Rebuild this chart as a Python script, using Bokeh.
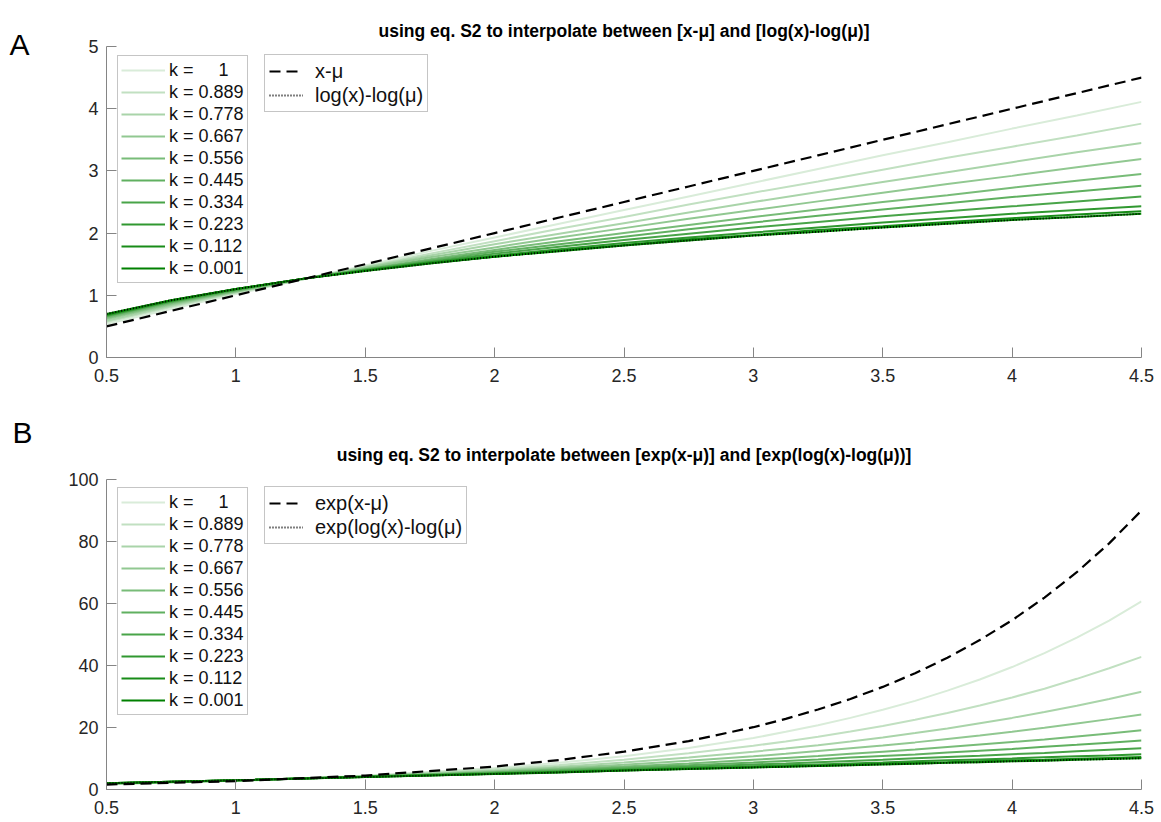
from bokeh.plotting import figure
from bokeh.models import (Range1d, FixedTicker, NumeralTickFormatter, Legend,
                          LegendItem, Label)
from bokeh.layouts import column
from bokeh.embed import file_html
from bokeh.resources import INLINE

FONT = "Liberation Sans"

k_labels = ["k =\u00a0\u00a0\u00a0\u00a0\u00a01", "k = 0.889", "k = 0.778",
            "k = 0.667", "k = 0.556", "k = 0.445", "k = 0.334", "k = 0.223",
            "k = 0.112", "k = 0.001"]
k_colors = ["#d9ecd9", "#c1e0c1", "#a9d4a9", "#91c891", "#78bc78",
            "#60b060", "#48a448", "#309830", "#188c18", "#008000"]

# ---- panel A values ----
a_x = [0.5, 0.75, 1.0, 1.25, 1.5, 1.75, 2.0, 2.25, 2.5, 2.75, 3.0,
       3.25, 3.5, 3.75, 4.0, 4.25, 4.5]
a_k1000 = [0.54, 0.78, 1.02, 1.25, 1.48, 1.71, 1.93, 2.15, 2.37, 2.59, 2.81, 3.03, 3.25, 3.46, 3.68, 3.89, 4.11]
a_k0889 = [0.57, 0.81, 1.04, 1.25, 1.46, 1.67, 1.87, 2.07, 2.26, 2.46, 2.65, 2.83, 3.02, 3.21, 3.39, 3.57, 3.76]
a_k0778 = [0.59, 0.83, 1.05, 1.25, 1.45, 1.64, 1.82, 1.99, 2.16, 2.33, 2.50, 2.66, 2.82, 2.98, 3.14, 3.30, 3.45]
a_k0667 = [0.62, 0.85, 1.06, 1.26, 1.44, 1.61, 1.77, 1.93, 2.08, 2.23, 2.37, 2.51, 2.65, 2.79, 2.92, 3.06, 3.19]
a_k0556 = [0.64, 0.87, 1.07, 1.26, 1.42, 1.58, 1.73, 1.87, 2.00, 2.13, 2.26, 2.38, 2.50, 2.61, 2.73, 2.84, 2.95]
a_k0445 = [0.66, 0.89, 1.08, 1.26, 1.42, 1.56, 1.70, 1.82, 1.94, 2.06, 2.17, 2.28, 2.38, 2.48, 2.58, 2.67, 2.76]
a_k0334 = [0.67, 0.90, 1.09, 1.26, 1.41, 1.54, 1.67, 1.78, 1.89, 1.99, 2.09, 2.18, 2.27, 2.35, 2.43, 2.51, 2.59]
a_k0223 = [0.68, 0.91, 1.10, 1.26, 1.40, 1.53, 1.64, 1.74, 1.84, 1.93, 2.01, 2.09, 2.17, 2.24, 2.31, 2.37, 2.43]
a_k0112 = [0.69, 0.92, 1.10, 1.26, 1.40, 1.52, 1.62, 1.72, 1.81, 1.90, 1.97, 2.05, 2.11, 2.18, 2.24, 2.30, 2.35]
a_k0001 = [0.70, 0.92, 1.10, 1.26, 1.39, 1.51, 1.62, 1.71, 1.80, 1.88, 1.96, 2.02, 2.09, 2.15, 2.21, 2.26, 2.31]
a_dashed = [0.5, 0.75, 1.0, 1.25, 1.5, 1.75, 2.0, 2.25, 2.5, 2.75, 3.0, 3.25, 3.5, 3.75, 4.0, 4.25, 4.5]
a_dotted = [0.70, 0.92, 1.10, 1.26, 1.39, 1.51, 1.62, 1.71, 1.80, 1.88, 1.96, 2.02, 2.09, 2.15, 2.21, 2.26, 2.31]

# ---- panel B values ----
b_x = [0.5, 1.0, 1.5, 2.0, 2.25, 2.5, 2.75, 3.0, 3.125, 3.25, 3.375, 3.5,
       3.625, 3.75, 3.875, 4.0, 4.125, 4.25, 4.375, 4.5]
b_k1000 = [1.7, 2.8, 4.4, 6.9, 8.6, 10.7, 13.4, 16.6, 18.6, 20.7, 23.1, 25.7, 28.6, 31.9, 35.5, 39.5, 44.0, 49.0, 54.5, 60.7]
b_k0889 = [1.8, 2.8, 4.3, 6.5, 7.9, 9.6, 11.7, 14.1, 15.5, 17.0, 18.7, 20.5, 22.5, 24.7, 27.1, 29.7, 32.5, 35.7, 39.1, 42.8]
b_k0778 = [1.8, 2.9, 4.3, 6.1, 7.3, 8.7, 10.3, 12.2, 13.2, 14.3, 15.5, 16.8, 18.2, 19.7, 21.4, 23.1, 25.0, 27.0, 29.2, 31.5]
b_k0667 = [1.9, 2.9, 4.2, 5.9, 6.9, 8.0, 9.3, 10.7, 11.5, 12.4, 13.3, 14.2, 15.2, 16.3, 17.4, 18.6, 19.9, 21.3, 22.7, 24.2]
b_k0556 = [1.9, 2.9, 4.2, 5.6, 6.5, 7.4, 8.4, 9.6, 10.2, 10.8, 11.5, 12.2, 12.9, 13.7, 14.5, 15.3, 16.1, 17.1, 18.1, 19.1]
b_k0445 = [1.9, 3.0, 4.1, 5.5, 6.2, 7.0, 7.8, 8.7, 9.2, 9.7, 10.3, 10.8, 11.3, 11.9, 12.5, 13.1, 13.8, 14.4, 15.1, 15.8]
b_k0334 = [2.0, 3.0, 4.1, 5.3, 5.9, 6.6, 7.3, 8.1, 8.4, 8.8, 9.2, 9.6, 10.1, 10.5, 10.9, 11.4, 11.8, 12.3, 12.8, 13.3]
b_k0223 = [2.0, 3.0, 4.1, 5.1, 5.7, 6.3, 6.9, 7.5, 7.8, 8.1, 8.4, 8.7, 9.1, 9.4, 9.7, 10.0, 10.4, 10.7, 11.0, 11.4]
b_k0112 = [2.0, 3.0, 4.0, 5.1, 5.6, 6.1, 6.7, 7.2, 7.5, 7.7, 8.0, 8.3, 8.6, 8.8, 9.1, 9.4, 9.6, 9.9, 10.2, 10.5]
b_k0001 = [2.0, 3.0, 4.0, 5.0, 5.5, 6.1, 6.6, 7.1, 7.3, 7.6, 7.8, 8.1, 8.3, 8.6, 8.8, 9.1, 9.3, 9.6, 9.8, 10.1]
b_dashed = [1.6, 2.7, 4.5, 7.4, 9.5, 12.2, 15.6, 20.1, 22.8, 25.8, 29.2, 33.1, 37.5, 42.5, 48.2, 54.6, 61.9, 70.1, 79.4, 90.0]
b_dotted = [2.0, 3.0, 4.0, 5.0, 5.5, 6.1, 6.6, 7.1, 7.3, 7.6, 7.8, 8.1, 8.3, 8.6, 8.8, 9.1, 9.3, 9.6, 9.8, 10.1]

x_ticks = [0.5, 1, 1.5, 2, 2.5, 3, 3.5, 4, 4.5]
a_yticks = [0, 1, 2, 3, 4, 5]
b_yticks = [0, 20, 40, 60, 80, 100]


def make_panel(height, top, bottom, ymax, yticks, xs, greens, dashed, dotted,
               dash_label, dot_label, title, letter, letter_x, letter_y,
               title_y):
    p = figure(width=1161, height=height, output_backend="svg", title=None,
               toolbar_location=None, x_range=Range1d(0.5, 4.5),
               y_range=Range1d(0, ymax), min_border_left=106,
               min_border_right=20, min_border_top=top,
               min_border_bottom=bottom)
    p.outline_line_color = None
    p.grid.visible = False
    p.background_fill_color = "white"
    p.border_fill_color = "white"

    for ax in (p.xaxis[0], p.yaxis[0]):
        ax.axis_line_color = "#858585"
        ax.major_tick_line_color = "#858585"
        ax.minor_tick_line_color = None
        ax.major_tick_in = 10
        ax.major_tick_out = 0
        ax.major_label_text_font = FONT
        ax.major_label_text_font_size = "18px"
        ax.major_label_text_color = "#262626"
    p.xaxis[0].ticker = FixedTicker(ticks=x_ticks)
    p.xaxis[0].formatter = NumeralTickFormatter(format="0.[0]")
    p.xaxis[0].major_label_standoff = 11
    p.yaxis[0].ticker = FixedTicker(ticks=yticks)
    p.yaxis[0].formatter = NumeralTickFormatter(format="0")
    p.yaxis[0].major_label_standoff = 8

    items1 = []
    for ys, col, lab in zip(greens, k_colors, k_labels):
        r = p.line(xs, ys, line_color=col, line_width=2)
        items1.append(LegendItem(label=lab, renderers=[r]))
    rd = p.line(xs, dashed, line_color="black", line_width=2.2,
                line_dash="11 6")
    rt = p.line(xs, dotted, line_color="black", line_width=1.8,
                line_dash="1 2")

    leg1 = Legend(items=items1, location=(11, 74), orientation="vertical",
                  label_text_font=FONT, label_text_font_size="18px",
                  label_text_color="#111111",
                  label_height=22, glyph_height=22, glyph_width=44,
                  label_standoff=4, spacing=0, padding=3, margin=0,
                  border_line_color="#8c8c8c", border_line_width=1,
                  background_fill_color="white", background_fill_alpha=1)
    leg2 = Legend(items=[LegendItem(label=dash_label, renderers=[rd]),
                         LegendItem(label=dot_label, renderers=[rt])],
                  location=(158, 245), orientation="vertical",
                  label_text_font=FONT, label_text_font_size="20px",
                  label_text_color="#111111",
                  label_height=24, glyph_height=24, glyph_width=34,
                  label_standoff=12, spacing=0, padding=4, margin=0,
                  border_line_color="#8c8c8c", border_line_width=1,
                  background_fill_color="white", background_fill_alpha=1)
    p.add_layout(leg1)
    p.add_layout(leg2)

    p.add_layout(Label(x=517.5, y=title_y, x_units="screen", y_units="screen",
                       text=title, text_font=FONT, text_font_size="17.5px",
                       text_font_style="bold", text_align="center",
                       text_baseline="alphabetic", text_color="black"), "above")
    p.add_layout(Label(x=letter_x, y=letter_y, x_units="screen",
                       y_units="screen", text=letter, text_font=FONT,
                       text_font_size="30px", text_align="left",
                       text_baseline="alphabetic", text_color="black"), "left")
    return p


pa = make_panel(392, 46, 35, 5, a_yticks, a_x,
                [a_k1000, a_k0889, a_k0778, a_k0667, a_k0556, a_k0445,
                 a_k0334, a_k0223, a_k0112, a_k0001],
                a_dashed, a_dotted, "x-\u03bc", "log(x)-log(\u03bc)",
                "using eq. S2 to interpolate between [x-\u03bc] and [log(x)-log(\u03bc)]",
                "A", -56, 313, 16)
pb = make_panel(430, 87, 33, 100, b_yticks, b_x,
                [b_k1000, b_k0889, b_k0778, b_k0667, b_k0556, b_k0445,
                 b_k0334, b_k0223, b_k0112, b_k0001],
                b_dashed, b_dotted, "exp(x-\u03bc)", "exp(log(x)-log(\u03bc)",
                "using eq. S2 to interpolate between [exp(x-\u03bc)] and [exp(log(x)-log(\u03bc))]",
                "B", -33, 357, 25)

layout = column(pa, pb, spacing=0)
open("out.html", "w").write(file_html(layout, INLINE))
